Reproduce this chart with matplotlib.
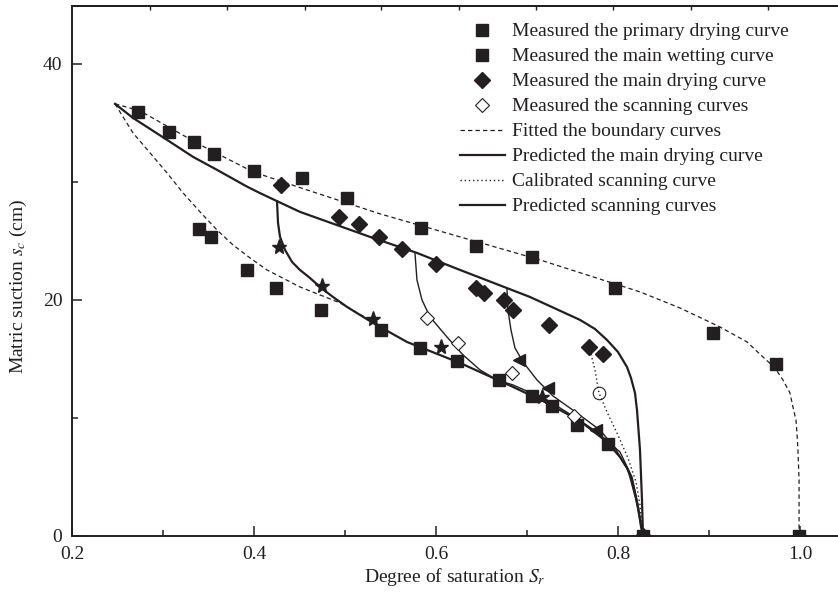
import matplotlib
matplotlib.use('Agg')
import matplotlib.pyplot as plt

matplotlib.rc('font', size=14, family='Liberation Serif')
matplotlib.rc('mathtext', fontset='stix')

INK = '#231f20'

# Measured points (S_r, s_c)
primary_x = [0.2725, 0.3066, 0.3341, 0.356, 0.400, 0.4527, 0.5022, 0.5835, 0.644,
             0.7055, 0.7967, 0.9044, 0.9736, 0.999]
primary_y = [35.93, 34.24, 33.39, 32.37, 30.93, 30.34, 28.6, 26.1, 24.53,
             23.64, 21.02, 17.2, 14.58, 0.0]

wetting_x = [0.3396, 0.3527, 0.3923, 0.4242, 0.4736, 0.5396, 0.5824, 0.623, 0.669,
             0.7055, 0.7275, 0.755, 0.789, 0.8275]
wetting_y = [26.0, 25.34, 22.54, 21.02, 19.15, 17.46, 15.93, 14.79, 13.18,
             11.86, 11.02, 9.41, 7.8, 0.0]

drying_x = [0.4297, 0.4934, 0.5154, 0.5374, 0.5626, 0.600, 0.644, 0.6527, 0.6747,
            0.6846, 0.7242, 0.768, 0.7835, 0.8275]
drying_y = [29.75, 27.03, 26.44, 25.34, 24.32, 23.05, 21.02, 20.59, 20.0,
            19.15, 17.88, 16.02, 15.42, 0.0]

scan_open_x = [0.590, 0.6242, 0.6835, 0.7516]
scan_open_y = [18.47, 16.36, 13.81, 10.17]

star_x = [0.4275, 0.4747, 0.5308, 0.6055, 0.7165]
star_y = [24.49, 21.19, 18.39, 16.02, 11.78]

tri_x = [0.6912, 0.7231, 0.7758]
tri_y = [14.92, 12.54, 8.98]

circle_x = [0.7791]
circle_y = [12.12]

# Curves
fit_primary_x = [0.2473, 0.2747, 0.3077, 0.3407, 0.3989, 0.4582, 0.5385, 0.6264, 0.7143,
                 0.8242, 0.8681, 0.9121, 0.9418, 0.9593, 0.9725, 0.9813, 0.989, 0.9923,
                 0.9956, 0.9967, 0.9978, 0.999, 0.999]
fit_primary_y = [36.61, 36.02, 34.58, 33.14, 30.85, 29.32, 27.29, 25.34, 23.39,
                 20.68, 19.32, 17.71, 16.44, 15.17, 14.24, 13.22, 12.12, 10.93,
                 9.83, 8.73, 7.29, 4.75, 0.0]

fit_wetting_x = [0.2473, 0.2527, 0.267, 0.2857, 0.3044, 0.322, 0.3407, 0.3593, 0.3769,
                 0.3956, 0.4143, 0.4505, 0.4945, 0.5308]
fit_wetting_y = [36.61, 35.93, 34.15, 32.46, 30.76, 29.07, 27.46, 25.93, 24.66,
                 23.56, 22.54, 21.10, 19.75, 18.14]

# main wetting branch below s = 18, shared by the scanning curves
wet_tail_x = [0.5308, 0.5681, 0.6264, 0.6846, 0.722, 0.7582, 0.7879, 0.8022, 0.8099,
              0.8154, 0.8187, 0.822, 0.8253, 0.8275]
wet_tail_y = [18.05, 16.44, 14.66, 12.63, 11.27, 9.75, 7.97, 6.69, 5.76,
              4.75, 3.64, 2.46, 0.8, 0.0]

main_drying_x = [0.2473, 0.267, 0.3044, 0.333, 0.3593, 0.3923, 0.4066, 0.4286, 0.4505,
                 0.5275, 0.5791, 0.6264, 0.7033, 0.7582, 0.7747, 0.7879, 0.8, 0.8099,
                 0.8143, 0.8187, 0.8209, 0.8242, 0.8264, 0.8275]
main_drying_y = [36.61, 35.42, 33.56, 32.12, 31.02, 29.6, 29.05, 28.25, 27.46,
                 25.34, 23.98, 22.54, 20.25, 18.31, 17.54, 16.61, 15.59, 14.32,
                 13.39, 12.12, 10.68, 7.29, 3.05, 0.0]

scan1_x = [0.4253, 0.4264, 0.4286, 0.4341, 0.4418, 0.4505, 0.4615, 0.4725, 0.4868,
           0.5022, 0.5165, 0.5308]
scan1_y = [28.35, 26.53, 25.34, 24.24, 23.22, 22.54, 21.86, 21.10, 20.25,
           19.41, 18.73, 18.05]

scan2_x = [0.5769, 0.5791, 0.5846, 0.5934, 0.6121, 0.6297, 0.6484, 0.667, 0.6846,
           0.722, 0.7505, 0.7769, 0.8022, 0.8154, 0.822, 0.8275]
scan2_y = [23.98, 21.69, 20.0, 18.56, 16.86, 15.34, 14.07, 13.22, 12.80,
           11.53, 10.17, 8.81, 7.12, 5.0, 2.63, 0.0]

scan3_x = [0.678, 0.6791, 0.6824, 0.6868, 0.6956, 0.711, 0.7286, 0.7549, 0.7802,
           0.7967, 0.811, 0.8198, 0.8275]
scan3_y = [20.93, 19.15, 17.46, 15.93, 14.75, 13.22, 11.86, 10.42, 8.98,
           7.46, 5.59, 3.05, 0.0]

calib_x = [0.7692, 0.7747, 0.7791, 0.7879, 0.7989, 0.811, 0.8198, 0.8242, 0.8275]
calib_y = [15.76, 14.07, 12.12, 10.51, 8.73, 6.61, 4.58, 2.63, 0.0]

top_ticks = [0.2857, 0.3703, 0.4560, 0.5396, 0.6253, 0.7099, 0.7945, 0.8802, 0.9648]

fig = plt.figure(figsize=(8.38, 5.92), dpi=100)
ax = fig.add_axes([72/838, 56/592, 766/838, 530/592])

dash = (0, (3.5, 2.5))

# markers first so that the legend keeps this order
ax.plot(primary_x, primary_y, 's', color=INK, ms=8.6, ls='none', zorder=4,
        label='Measured the primary drying curve')
ax.plot(wetting_x, wetting_y, 's', color=INK, ms=8.6, ls='none', zorder=4,
        label='Measured the main wetting curve')
ax.plot(drying_x, drying_y, 'D', color=INK, ms=8.5, ls='none', zorder=4,
        label='Measured the main drying curve')
ax.plot(scan_open_x, scan_open_y, 'D', mfc='white', mec=INK, mew=0.8, ms=7.5,
        ls='none', zorder=4, label='Measured the scanning curves')

ax.plot(fit_primary_x, fit_primary_y, color=INK, lw=0.9, ls=dash, zorder=2,
        label='Fitted the boundary curves')
ax.plot(main_drying_x, main_drying_y, color=INK, lw=1.6, zorder=2,
        label='Predicted the main drying curve')
ax.plot(calib_x, calib_y, color=INK, lw=1.0, ls=(0, (1, 2)), zorder=2,
        label='Calibrated scanning curve')
ax.plot(scan1_x + wet_tail_x[1:], scan1_y + wet_tail_y[1:], color=INK, lw=1.6,
        zorder=2, label='Predicted scanning curves')

ax.plot(fit_wetting_x, fit_wetting_y, color=INK, lw=0.9, ls=dash, zorder=2)
ax.plot(scan2_x, scan2_y, color=INK, lw=1.0, zorder=2)
ax.plot(scan3_x, scan3_y, color=INK, lw=1.0, zorder=2)

ax.plot(star_x, star_y, '*', color=INK, ms=11, ls='none', zorder=4)
ax.plot(tri_x, tri_y, '<', color=INK, ms=9, ls='none', zorder=4)
ax.plot(circle_x, circle_y, 'o', mfc='none', mec=INK, mew=0.8, ms=9, ls='none', zorder=4)

ax.set_xlim(0.2, 1.0418)
ax.set_ylim(0, 44.9)
ax.set_xticks([0.2, 0.4, 0.6, 0.8, 1.0])
ax.set_xticklabels(['0.2', '0.4', '0.6', '0.8', '1.0'])
ax.set_xticks([0.3, 0.5, 0.7, 0.9], minor=True)
ax.set_yticks([0, 20, 40])
ax.set_yticks([10, 30], minor=True)

ax.tick_params(which='both', direction='in', width=1.1, color=INK, labelcolor=INK)
ax.tick_params(which='major', length=7.5)
ax.tick_params(which='minor', length=4.5)
ax.tick_params(axis='x', which='major', pad=7)
ax.tick_params(axis='y', which='major', pad=7)
ax.spines['right'].set_visible(False)
for side in ['left', 'bottom', 'top']:
    ax.spines[side].set_linewidth(1.4)
    ax.spines[side].set_color(INK)

sec = ax.secondary_xaxis('top')
sec.set_xticks(top_ticks)
sec.set_xticklabels([])
sec.tick_params(direction='in', length=3, width=1.0, color=INK)
sec.spines['top'].set_linewidth(1.4)
sec.spines['top'].set_color(INK)

ax.set_xlabel(r'Degree of saturation $S_r$', color=INK)
ax.set_ylabel(r'Matric suction $s_c$ (cm)', color=INK)
ax.xaxis.set_label_coords(0.5, -0.057)
ax.yaxis.set_label_coords(-0.056, 0.472)

ax.legend(loc='upper left', bbox_to_anchor=(452/838, 1 - 15/592),
          bbox_transform=fig.transFigure, frameon=False, handlelength=2.3,
          handletextpad=0.36, labelspacing=0.38, borderpad=0.4, borderaxespad=0,
          labelcolor=INK)

fig.savefig('out.png', dpi=100)
